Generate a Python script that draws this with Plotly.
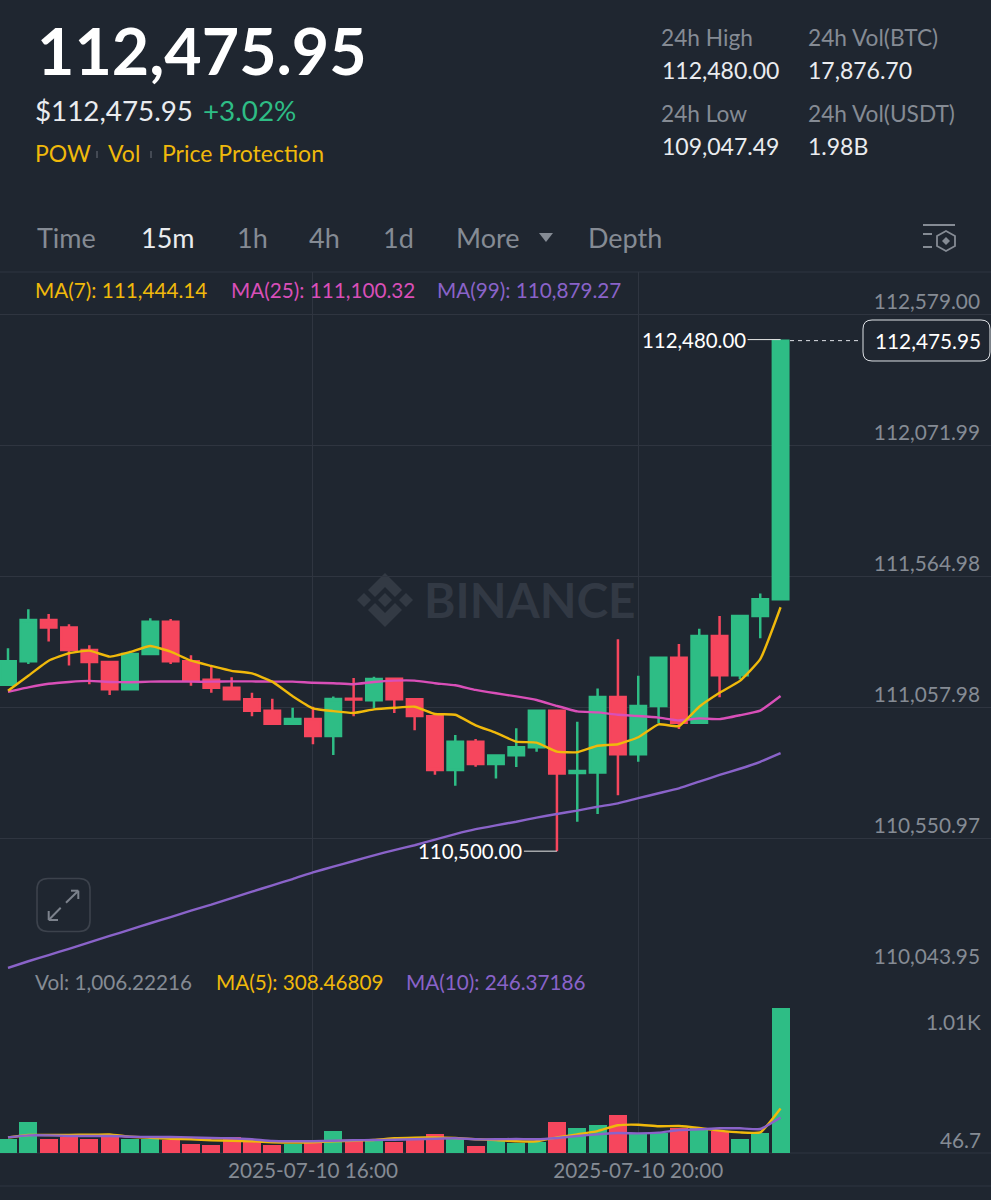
import plotly.graph_objects as go

W, H = 991, 1200
BG = "#1f2630"
GRID = "#2f3540"
GREEN = "#2ebd85"
RED = "#f6465d"
YELLOW = "#f0b90b"
PINK = "#d94fb8"
PURPLE = "#8a63c9"
GRAY = "#858b94"
LIGHT = "#eaecef"
FONT = "Lato"

# Data
candle_index = list(range(39))
open_ = [111144,111235,111395,111366,111279,111232,111127,111263,111388,111235,111163,111132,111088,111043,110993,111012,110946,111090,111084,111167,111088,111022,110814,110923,110837,110871,110902,111043,110803,110804,111097,110875,111062,111249,110997,111333,111181,111410,111475]
high  = [111285,111436,111418,111378,111297,111232,111271,111401,111399,111258,111214,111173,111113,111090,111055,111059,111099,111170,111175,111167,111088,111022,110950,110934,110870,110976,111043,111043,111001,111130,111320,111179,111249,111302,111361,111410,111410,111497,112480]
low   = [111144,111224,111311,111219,111146,111104,111127,111263,111224,111140,111113,111088,111022,110993,110993,110914,110872,111022,111053,111035,110968,110796,110753,110827,110781,110826,110885,110500,110614,110644,110716,110846,110995,110973,110997,111096,111165,111324,111475]
close = [111235,111395,111366,111279,111232,111127,111263,111388,111235,111163,111132,111088,111043,110993,111012,110946,111089,111087,111166,111088,111023,110814,110923,110837,110870,110902,111043,110801,110810,111097,110875,111062,111249,110997,111333,111181,111410,111475,112475.95]
ma7  = [111121,111179,111237,111266,111276,111253,111271,111294,111272,111237,111217,111198,111188,111156,111100,111053,111042,111035,111049,111055,111059,111031,111028,110987,110958,110924,110920,110885,110883,110908,110914,110941,110991,110984,111059,111113,111159,111243,111444.14]
ma25 = [111117,111134,111148,111155,111159,111155,111154,111156,111157,111156,111156,111157,111157,111156,111156,111152,111150,111146,111155,111160,111160,111150,111142,111124,111111,111099,111085,111062,111041,111037,111028,111023,111017,111006,111014,111011,111026,111044,111100.32]
ma99 = [110048,110074,110098,110122,110147,110172,110196,110221,110245,110270,110293,110318,110343,110368,110392,110418,110440,110462,110484,110504,110523,110545,110566,110585,110600,110614,110630,110644,110657,110672,110685,110705,110724,110743,110769,110795,110819,110846,110879.27]
volume = [95,212,97,113,95,118,99,99,88,62,53,109,78,53,60,78,152,83,81,78,102,132,95,48,90,69,78,212,171,192,263,136,136,173,171,150,95,138,1006.22]
vol_ma5  = [108,125,125,125,127,129,113,106,99,95,88,85,81,74,72,74,81,85,90,102,106,108,104,95,90,81,81,108,129,152,192,196,185,187,173,155,143,143,308.47]
vol_ma10 = [108,122,122,118,118,118,113,111,111,108,104,102,95,83,81,81,85,88,90,92,95,99,102,95,95,97,95,104,118,129,138,136,141,159,164,171,171,166,246.37]
price_ticks = [112579.00,112071.99,111564.98,111057.98,110550.97,110043.95]
time_ticks = [15, 31]
time_labels = ["2025-07-10 16:00", "2025-07-10 20:00"]

PRICE_TOP, PRICE_BOTTOM = 112741.55, 110043.95
VOL_TOP = 1274
X0, X1 = -0.3935, 48.35
PAD = 2.5  # annotation inner padding


def px(x, y):
    return x / W, 1 - y / H


def text(t, x, y, size, color, anchor="left", weight=400):
    x = x - PAD if anchor == "left" else x + PAD
    y = y - 1
    return dict(text=t, x=x / W, y=1 - y / H, xref="paper", yref="paper", xanchor=anchor,
                yanchor="middle", showarrow=False, font=dict(family=FONT, size=size, color=color, weight=weight))


def path(points, close_path=True):
    s = ""
    for k, (a, b) in enumerate(points):
        u, v = px(a, b)
        s += ("M" if k == 0 else "L") + f"{u:.5f},{v:.5f} "
    return s + ("Z" if close_path else "")


def round_rect(x0, y0, x1, y1, r):
    corner = lambda cx, cy: (cx / W, 1 - cy / H)
    p = lambda a, b: "%.5f,%.5f" % corner(a, b)
    return (f"M{p(x0+r,y0)} L{p(x1-r,y0)} Q{p(x1,y0)} {p(x1,y0+r)} L{p(x1,y1-r)} Q{p(x1,y1)} {p(x1-r,y1)} "
            f"L{p(x0+r,y1)} Q{p(x0,y1)} {p(x0,y1-r)} L{p(x0,y0+r)} Q{p(x0,y0)} {p(x0+r,y0)} Z")


fig = go.Figure()
fig.add_trace(go.Candlestick(x=candle_index, open=open_, high=high, low=low, close=close,
    increasing=dict(line=dict(color=GREEN, width=2.5), fillcolor=GREEN),
    decreasing=dict(line=dict(color=RED, width=2.5), fillcolor=RED),
    whiskerwidth=0, xaxis="x", yaxis="y", hoverinfo="skip", showlegend=False))
for series, color in ((ma99, PURPLE), (ma25, PINK), (ma7, YELLOW)):
    fig.add_trace(go.Scatter(x=candle_index, y=series, mode="lines", xaxis="x", yaxis="y",
        line=dict(color=color, width=2.4, shape="spline", smoothing=0.4), hoverinfo="skip", showlegend=False))
fig.add_trace(go.Bar(x=candle_index, y=volume, xaxis="x", yaxis="y2", width=0.885, hoverinfo="skip",
    marker=dict(color=[GREEN if c >= o else RED for o, c in zip(open_, close)], line=dict(width=0)), showlegend=False))
for series, color in ((vol_ma5, YELLOW), (vol_ma10, PURPLE)):
    fig.add_trace(go.Scatter(x=candle_index, y=series, mode="lines", xaxis="x", yaxis="y2",
        line=dict(color=color, width=2.4, shape="spline", smoothing=0.4), hoverinfo="skip", showlegend=False))

annotations = [
    text("112,475.95", 37, 51, 64.5, "#ffffff", weight=700),
    text("$112,475.95", 35, 111, 27.8, LIGHT),
    text("+3.02%", 203, 111, 27.8, GREEN),
    text("POW", 35, 154, 23, YELLOW),
    text("Vol", 108, 154, 23, YELLOW),
    text("Price Protection", 162, 154, 23, YELLOW),
    text("24h High", 661, 39, 22.7, GRAY),
    text("112,480.00", 662, 71, 23, LIGHT),
    text("24h Vol(BTC)", 808, 39, 22.7, GRAY),
    text("17,876.70", 808, 71, 23, LIGHT),
    text("24h Low", 661, 115, 22.7, GRAY),
    text("109,047.49", 662, 147, 23, LIGHT),
    text("24h Vol(USDT)", 808, 115, 22.7, GRAY),
    text("1.98B", 808, 147, 23, LIGHT),
    text("Time", 37, 238, 27, GRAY),
    text("15m", 141, 238, 27, LIGHT),
    text("1h", 237, 238, 27, GRAY),
    text("4h", 309, 238, 27, GRAY),
    text("1d", 383, 238, 27, GRAY),
    text("More", 456, 238, 27, GRAY),
    text("Depth", 588, 238, 27, GRAY),
    text("MA(7): 111,444.14", 35, 291, 20.7, YELLOW),
    text("MA(25): 111,100.32", 231, 291, 20.7, PINK),
    text("MA(99): 110,879.27", 437, 291, 20.7, PURPLE),
    text("Vol: 1,006.22216", 35, 983, 20.7, GRAY),
    text("MA(5): 308.46809", 216, 983, 20.7, YELLOW),
    text("MA(10): 246.37186", 406, 983, 20.7, PURPLE),
    text("BINANCE", 424, 600, 47.8, "#323944", weight=700),
    text("1.01K", 980, 1022, 20.8, GRAY, "right"),
    text("46.7", 980, 1140, 20.8, GRAY, "right"),
    text("112,475.95", 980, 341, 20.8, "#ffffff", "right"),
    dict(x=27, y=110500, xref="x", yref="y", text="110,500.00", showarrow=True, ax=-33, ay=0, arrowhead=0,
         arrowwidth=1, arrowcolor="#e8e8e8", xanchor="right", yanchor="middle",
         font=dict(family=FONT, size=20.4, color="#ffffff")),
    dict(x=38, y=112480, xref="x", yref="y", text="112,480.00", showarrow=True, ax=-33, ay=0, arrowhead=0,
         arrowwidth=1, arrowcolor="#e8e8e8", xanchor="right", yanchor="middle",
         font=dict(family=FONT, size=20.4, color="#ffffff")),
]

def line(x0, y0, x1, y1, color, width=1, dash=None, layer="above"):
    u0, v0 = px(x0, y0)
    u1, v1 = px(x1, y1)
    return dict(type="line", xref="paper", yref="paper", x0=u0, y0=v0, x1=u1, y1=v1, layer=layer,
                line=dict(color=color, width=width, dash=dash or "solid"))

shapes = [
    line(0, 272, W, 272, GRID, layer="below"),
    line(0, 1153, W, 1153, GRID, layer="below"),
    line(0, 1186, W, 1186, GRID, layer="below"),
    line(97, 151, 97, 158, "#444a54", 2),
    line(151, 151, 151, 158, "#444a54", 2),
    dict(type="path", xref="paper", yref="paper", path=path([(539, 233), (553, 233), (546, 242)]),
         fillcolor=GRAY, line=dict(width=0)),
    # settings icon
    line(923, 225, 955, 225, GRAY, 2),
    line(923, 234, 932, 234, GRAY, 2),
    line(923, 247, 932, 247, GRAY, 2),
    dict(type="path", xref="paper", yref="paper",
         path=path([(946, 231), (955, 236), (955, 246), (946, 251), (937, 246), (937, 236)]),
         fillcolor="rgba(0,0,0,0)", line=dict(color=GRAY, width=1.8)),
    dict(type="path", xref="paper", yref="paper", path=path([(946, 237), (950, 241), (946, 245), (942, 241)]),
         fillcolor=GRAY, line=dict(width=0)),
    # last price tag
    dict(type="line", xref="paper", yref="y", x0=790 / W, x1=862 / W, y0=112475.95, y1=112475.95,
         line=dict(color="#dfe2e6", width=1, dash="4px,4px")),
    dict(type="path", xref="paper", yref="paper", path=round_rect(863, 320, 990, 361, 9),
         fillcolor=BG, line=dict(color="#dfe2e6", width=1)),
    # expand button
    dict(type="path", xref="paper", yref="paper", path=round_rect(37, 878.5, 90, 931.5, 11),
         fillcolor="rgba(0,0,0,0)", line=dict(color="#3c424c", width=1.6)),
    line(66, 902.7, 78.3, 890.7, "#7c828c", 2), line(71, 890.7, 78.3, 890.7, "#7c828c", 2),
    line(78.3, 890.7, 78.3, 899, "#7c828c", 2), line(60.7, 907.7, 48.7, 920, "#7c828c", 2),
    line(48.7, 911, 48.7, 920, "#7c828c", 2), line(48.7, 920, 58, 920, "#7c828c", 2),
]
# watermark logo
LOGO = "#333a44"
for pts in (
    [(385, 573), (402, 590), (395, 597), (385, 587), (375, 597), (368, 590)],
    [(385, 627), (402, 610), (395, 603), (385, 613), (375, 603), (368, 610)],
    [(385, 593), (392, 600), (385, 607), (378, 600)],
    [(364, 593), (371, 600), (364, 607), (357, 600)],
    [(406, 593), (413, 600), (406, 607), (399, 600)],
):
    shapes.append(dict(type="path", xref="paper", yref="paper", path=path(pts), fillcolor=LOGO,
                       line=dict(width=0), layer="below"))

fig.update_layout(
    width=W, height=H, margin=dict(l=0, r=0, t=0, b=0), autosize=False,
    paper_bgcolor=BG, plot_bgcolor=BG, showlegend=False, dragmode=False,
    boxgap=0.24, boxgroupgap=0, bargap=0, hovermode=False,
    annotations=annotations, shapes=shapes,
    xaxis=dict(domain=[0, 1], range=[X0, X1], anchor="y2", rangeslider=dict(visible=False),
               tickmode="array", tickvals=time_ticks, ticktext=time_labels, showgrid=True, gridcolor=GRID, gridwidth=1,
               zeroline=False, showline=False, ticks="", ticklabelstandoff=3,
               tickfont=dict(family=FONT, size=20.7, color=GRAY), fixedrange=True),
    yaxis=dict(domain=[1 - 969 / H, 1 - 272 / H], range=[PRICE_BOTTOM, PRICE_TOP], side="right", anchor="free", position=1,
               tickmode="array", tickvals=price_ticks, ticktext=[f"{v:,.2f}" for v in price_ticks],
               ticklabelposition="inside", ticklabelshift=-12, ticklabelstandoff=8, showgrid=True, gridcolor=GRID, gridwidth=1,
               zeroline=False, showline=False, ticks="", tickfont=dict(family=FONT, size=20.8, color=GRAY), fixedrange=True),
    yaxis2=dict(domain=[1 - 1153 / H, 1 - 969 / H], range=[0, VOL_TOP], side="right", anchor="x",
                showticklabels=False, showgrid=False, zeroline=False, showline=False, ticks="", fixedrange=True),
)

fig.write_html("out.html", config=dict(displayModeBar=False, staticPlot=False),
               post_script="document.body.style.margin='0';document.documentElement.style.overflow='hidden';")
